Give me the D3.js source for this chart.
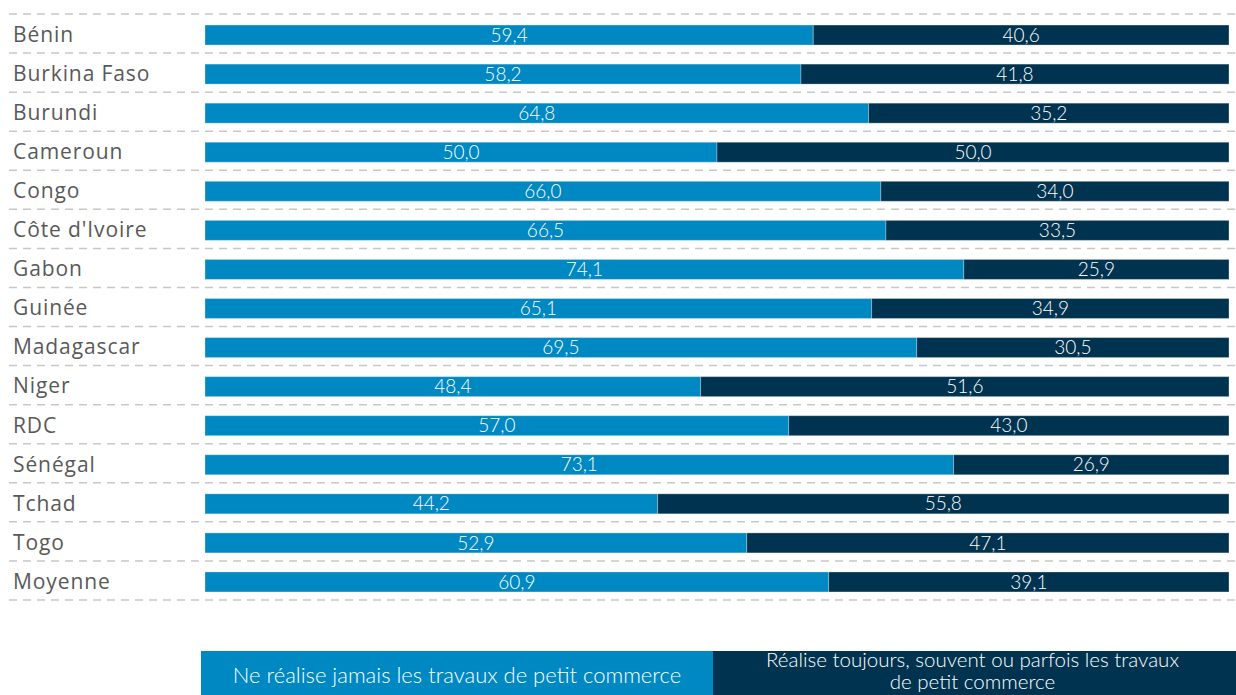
<!DOCTYPE html>
<html><head><meta charset="utf-8">
<script src="https://cdn.jsdelivr.net/npm/d3@7"></script>
<style>body{margin:0;background:#fff;} svg{display:block;}</style>
</head><body>
<script>
const categories = ["Bénin","Burkina Faso","Burundi","Cameroun","Congo","Côte d'Ivoire","Gabon","Guinée","Madagascar","Niger","RDC","Sénégal","Tchad","Togo","Moyenne"];
const jamais = [59.4,58.2,64.8,50.0,66.0,66.5,74.1,65.1,69.5,48.4,57.0,73.1,44.2,52.9,60.9];
const toujours = [40.6,41.8,35.2,50.0,34.0,33.5,25.9,34.9,30.5,51.6,43.0,26.9,55.8,47.1,39.1];
const seriesNames = ["Ne réalise jamais les travaux de petit commerce","Réalise toujours, souvent ou parfois les travaux de petit commerce"];
const legendLines2 = ["Réalise toujours, souvent ou parfois les travaux","de petit commerce"];
const colors = ["#0088c2","#00334f"];

const W = 1236, H = 695;
const svg = d3.select("body").append("svg").attr("width", W).attr("height", H);
const fmt = v => d3.format(".1f")(v).replace(".", ",");

const y = d3.scaleBand().domain(categories).range([14, 600]).paddingInner(0).paddingOuter(0);
const x = d3.scaleLinear().domain([0, 100]).range([205, 1229]);
const barH = 20;

// dashed grid lines
const lines = categories.map(c => y(c)).concat([600]);
svg.selectAll("line.grid").data(lines).join("line")
  .attr("x1", 9).attr("x2", W).attr("y1", d => d).attr("y2", d => d)
  .attr("stroke", "#c8c8c8").attr("stroke-width", 1.5).attr("stroke-dasharray", "8,6");

const rows = svg.selectAll("g.row").data(categories).join("g")
  .attr("transform", c => `translate(0,${y(c) + y.bandwidth()/2})`);

rows.append("text").attr("x", 13).attr("y", 1).attr("dy", "0.35em")
  .attr("font-family", "'Open Sans', Lato, sans-serif").attr("font-size", 21)
  .attr("letter-spacing", 0.9)
  .attr("fill", "#595959").text(c => c);

rows.each(function(c, i) {
  const g = d3.select(this);
  const segs = [[0, jamais[i]], [jamais[i], jamais[i] + toujours[i]]];
  segs.forEach((s, k) => {
    g.append("rect").attr("x", x(s[0])).attr("y", -barH/2 + 1.5)
      .attr("width", x(s[1]) - x(s[0])).attr("height", barH)
      .attr("fill", colors[k]).attr("stroke", "#ffffff").attr("stroke-opacity", 0.3).attr("stroke-width", 1);
    g.append("text").attr("x", (x(s[0]) + x(s[1]))/2).attr("y", 1.5).attr("dy", "0.35em")
      .attr("text-anchor", "middle").attr("font-family", "Lato, sans-serif")
      .attr("font-weight", 300).attr("font-size", 19).attr("fill", "#fff")
      .text(fmt(k === 0 ? jamais[i] : toujours[i]));
  });
});

// legend
const legX = [201, 713, 1236];
const lg = svg.append("g");
seriesNames.forEach((n, k) => {
  lg.append("rect").attr("x", legX[k]).attr("y", 651).attr("width", legX[k+1] - legX[k]).attr("height", 50).attr("fill", colors[k]);
});
lg.append("text").attr("x", (legX[0]+legX[1])/2).attr("y", 683).attr("text-anchor", "middle")
  .attr("font-family", "Lato, sans-serif").attr("font-weight", 300).attr("font-size", 22).attr("fill", "#fff")
  .text(seriesNames[0]);
const t2 = lg.append("text").attr("text-anchor", "middle")
  .attr("font-family", "Lato, sans-serif").attr("font-weight", 300).attr("font-size", 20.5).attr("fill", "#fff");
legendLines2.forEach((l, j) => {
  t2.append("tspan").attr("x", (legX[1]+legX[2])/2 - 2).attr("y", 667 + j * 22).text(l);
});
</script>
</body></html>
